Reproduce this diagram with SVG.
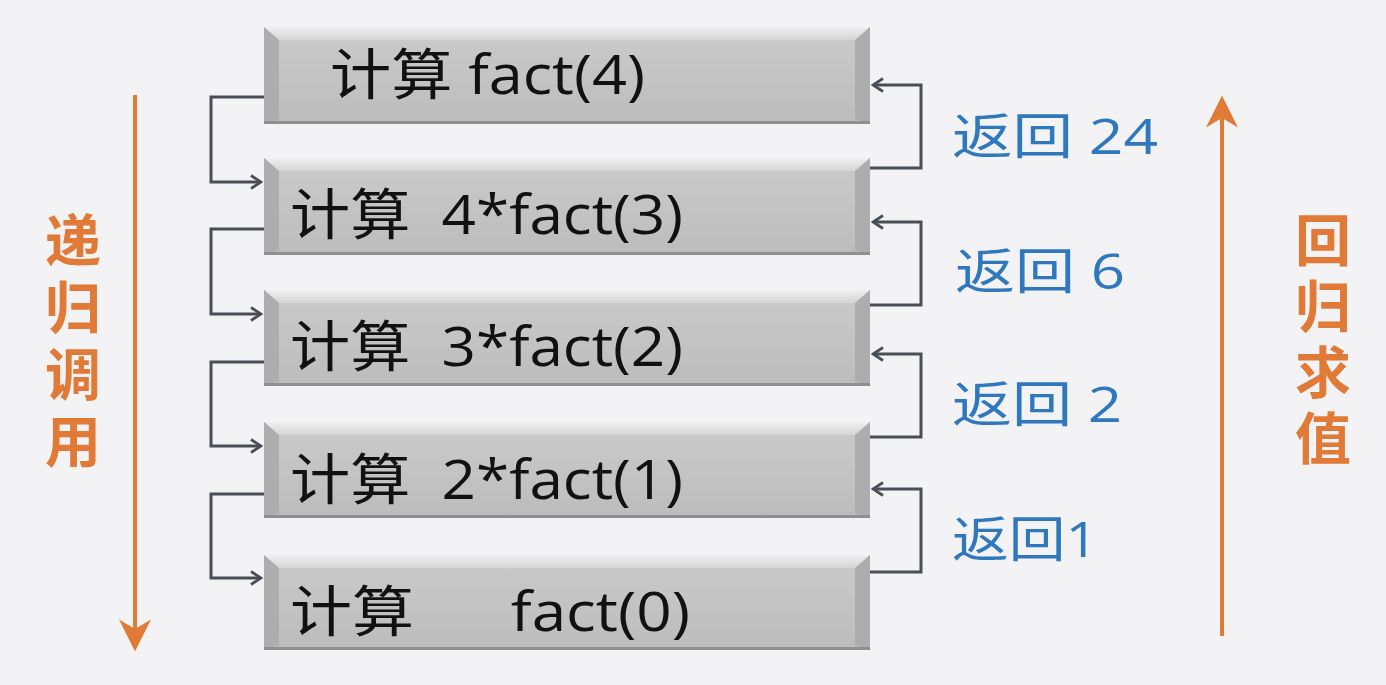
<svg xmlns="http://www.w3.org/2000/svg" width="1386" height="685" viewBox="0 0 1386 685">
<defs>
<linearGradient id="bg" x1="0" y1="0" x2="0" y2="1">
<stop offset="0" stop-color="#cbcbcb"/>
<stop offset="1" stop-color="#bcbcbc"/>
</linearGradient>
<linearGradient id="topb" x1="0" y1="0" x2="0" y2="1">
<stop offset="0" stop-color="#f0f0f0"/>
<stop offset="1" stop-color="#d4d4d4"/>
</linearGradient>
<marker id="ah" viewBox="0 0 16 16" refX="14" refY="8" markerWidth="16" markerHeight="16" orient="auto" markerUnits="userSpaceOnUse">
<path d="M4,1.5 L14,8 L4,14.5" fill="none" stroke="#4a4f57" stroke-width="2.8"/>
</marker>
<marker id="oh" viewBox="0 0 10 10" refX="8" refY="5" markerWidth="8" markerHeight="8" orient="auto">
<path d="M0,0 L10,5 L0,10 L3,5 Z" fill="#e07a36"/>
</marker>
<style>
.box{fill:url(#bg);}
.top{fill:url(#topb);}
.side{fill:#adadad;}
.bot{fill:#8f8f8f;}
.t{font-family:"Open Sans","Noto Sans CJK SC",sans-serif;font-size:55px;fill:#111;}
.b{font-family:"Open Sans","Noto Sans CJK SC",sans-serif;font-size:49px;fill:#2f78bd;}
.o{font-family:"Noto Sans CJK SC",sans-serif;font-size:56px;font-weight:bold;fill:#e07a36;}
.c{fill:none;stroke:#4a4f57;stroke-width:3;}
.oa{fill:none;stroke:#e07a36;stroke-width:4;}
</style>
</defs>
<rect width="1386" height="685" fill="#f3f3f5"/>

<g id="node1">
<rect class="box" x="264" y="27" width="606" height="97"/>
<polygon class="top" points="264,27 870,27 855,40 279,40"/>
<polygon class="side" points="264,27 279,40 279,119 264,124"/>
<polygon class="side" points="870,27 855,40 855,119 870,124"/>
<rect class="bot" x="264" y="121" width="606" height="3"/>
<text class="t" x="330" y="94" textLength="315" lengthAdjust="spacingAndGlyphs">计算 fact(4)</text>
</g>
<g id="node2">
<rect class="box" x="264" y="158" width="606" height="97"/>
<polygon class="top" points="264,158 870,158 855,171 279,171"/>
<polygon class="side" points="264,158 279,171 279,250 264,255"/>
<polygon class="side" points="870,158 855,171 855,250 870,255"/>
<rect class="bot" x="264" y="252" width="606" height="3"/>
<text class="t" x="290" y="234" textLength="393" lengthAdjust="spacingAndGlyphs" xml:space="preserve">计算  4*fact(3)</text>
</g>
<g id="node3">
<rect class="box" x="264" y="290" width="606" height="96"/>
<polygon class="top" points="264,290 870,290 855,303 279,303"/>
<polygon class="side" points="264,290 279,303 279,381 264,386"/>
<polygon class="side" points="870,290 855,303 855,381 870,386"/>
<rect class="bot" x="264" y="383" width="606" height="3"/>
<text class="t" x="290" y="366" textLength="393" lengthAdjust="spacingAndGlyphs" xml:space="preserve">计算  3*fact(2)</text>
</g>
<g id="node4">
<rect class="box" x="264" y="422" width="606" height="96"/>
<polygon class="top" points="264,422 870,422 855,435 279,435"/>
<polygon class="side" points="264,422 279,435 279,513 264,518"/>
<polygon class="side" points="870,422 855,435 855,513 870,518"/>
<rect class="bot" x="264" y="515" width="606" height="3"/>
<text class="t" x="290" y="499" textLength="393" lengthAdjust="spacingAndGlyphs" xml:space="preserve">计算  2*fact(1)</text>
</g>
<g id="node5">
<rect class="box" x="264" y="555" width="606" height="95"/>
<polygon class="top" points="264,555 870,555 855,568 279,568"/>
<polygon class="side" points="264,555 279,568 279,645 264,650"/>
<polygon class="side" points="870,555 855,568 855,645 870,650"/>
<rect class="bot" x="264" y="647" width="606" height="3"/>
<text class="t" x="290" y="631" textLength="400" lengthAdjust="spacingAndGlyphs" xml:space="preserve">计算      fact(0)</text>
</g>

<g id="connectors">
<path class="c" d="M264,97 H211 V182 H261" marker-end="url(#ah)"/>
<path class="c" d="M264,229 H211 V314 H261" marker-end="url(#ah)"/>
<path class="c" d="M264,362 H211 V446 H261" marker-end="url(#ah)"/>
<path class="c" d="M264,494 H211 V578 H261" marker-end="url(#ah)"/>
<path class="c" d="M870,168 H921 V85 H873" marker-end="url(#ah)"/>
<path class="c" d="M870,305 H921 V222 H873" marker-end="url(#ah)"/>
<path class="c" d="M870,437 H921 V354 H873" marker-end="url(#ah)"/>
<path class="c" d="M870,572 H921 V489 H873" marker-end="url(#ah)"/>
<path class="oa" d="M135,95 V645" marker-end="url(#oh)"/>
<path class="oa" d="M1222,636 V102" marker-end="url(#oh)"/>
</g>

<g id="labels">
<text class="b" x="952" y="154" textLength="206" lengthAdjust="spacingAndGlyphs">返回 24</text>
<text class="b" x="955" y="289" textLength="170" lengthAdjust="spacingAndGlyphs">返回 6</text>
<text class="b" x="952" y="422" textLength="170" lengthAdjust="spacingAndGlyphs">返回 2</text>
<text class="b" x="952" y="557" textLength="146" lengthAdjust="spacingAndGlyphs">返回1</text>
<text class="o" x="73" y="212" writing-mode="vertical-rl" letter-spacing="11">递归调用</text>
<text class="o" x="1323" y="212" writing-mode="vertical-rl" letter-spacing="10">回归求值</text>
</g>
</svg>
